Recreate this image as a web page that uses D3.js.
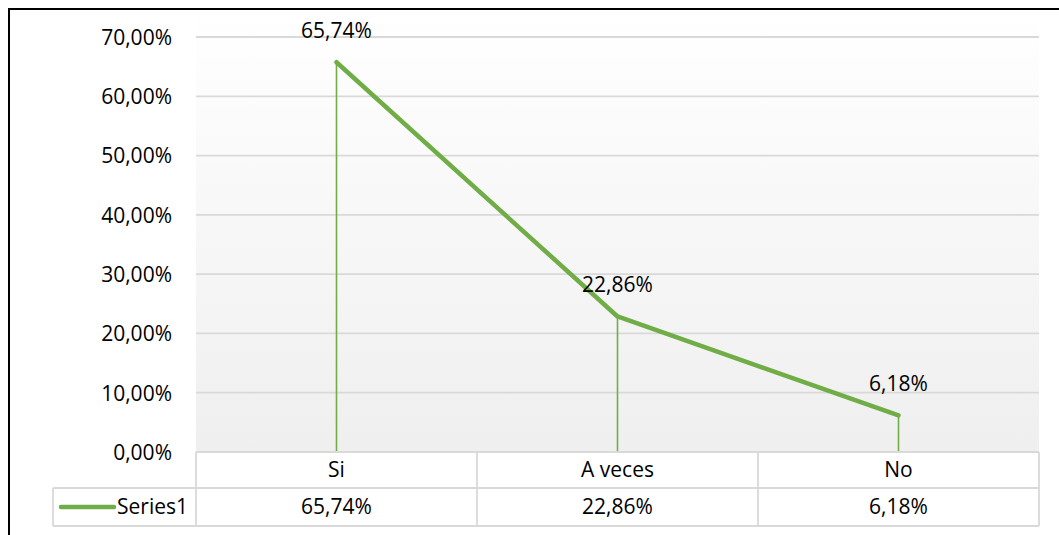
<!DOCTYPE html>
<html>
<head>
<meta charset="utf-8">
<script src="https://cdn.jsdelivr.net/npm/d3@7"></script>
<style>
  html, body { margin: 0; padding: 0; background: #fff; }
  svg { display: block; font-family: "Open Sans", "Liberation Sans", sans-serif; }
</style>
</head>
<body>
<svg id="chart" width="1059" height="535"></svg>
<script>
// Survey answers and their shares
const categories = ["Si", "A veces", "No"];
const values = [0.6574, 0.2286, 0.0618];
const seriesName = "Series1";
const yTicks = [0, 0.1, 0.2, 0.3, 0.4, 0.5, 0.6, 0.7];

const fmt = v => (v * 100).toFixed(2).replace(".", ",") + "%";

const svg = d3.select("#chart");
const W = 1059, H = 535;
const plot = { left: 196, right: 1039, top: 37, bottom: 452 };
const rowH = [36, 38];
const seriesCellLeft = 53;
const green = "#70ad47";
const gridColor = "#d9d9d9";
const fontSize = 21;

const x = d3.scaleBand().domain(categories).range([plot.left, plot.right]).padding(0);
const y = d3.scaleLinear().domain([0, 0.7]).range([plot.bottom, plot.top]);

// Plot background: soft vertical gradient
const defs = svg.append("defs");
const grad = defs.append("linearGradient").attr("id", "plotBg")
  .attr("x1", 0).attr("y1", 0).attr("x2", 0).attr("y2", 1);
grad.append("stop").attr("offset", "0%").attr("stop-color", "#ffffff");
grad.append("stop").attr("offset", "100%").attr("stop-color", "#efefef");

svg.append("rect")
  .attr("x", plot.left).attr("y", 10)
  .attr("width", plot.right - plot.left).attr("height", plot.bottom - 10)
  .attr("fill", "url(#plotBg)");

// Horizontal gridlines
svg.append("g").selectAll("line").data(yTicks.filter(t => t > 0)).join("line")
  .attr("x1", plot.left).attr("x2", plot.right)
  .attr("y1", d => y(d)).attr("y2", d => y(d))
  .attr("stroke", gridColor).attr("stroke-width", 1.8);

// Y axis labels
const yAxis = d3.axisLeft(y).tickValues(yTicks).tickFormat(fmt).tickSize(0).tickPadding(0);
const yg = svg.append("g").attr("transform", "translate(172,0)").call(yAxis);
yg.select(".domain").remove();
yg.selectAll("text")
  .attr("font-family", "'Open Sans', sans-serif")
  .attr("font-size", fontSize).attr("fill", "#000")
  .attr("dy", "0.35em");

const cx = d => x(d) + x.bandwidth() / 2;

// Drop lines from each point to the axis
svg.append("g").selectAll("line").data(categories).join("line")
  .attr("x1", cx).attr("x2", cx)
  .attr("y1", (d, i) => y(values[i])).attr("y2", plot.bottom)
  .attr("stroke", green).attr("stroke-width", 1.6);

// Series line
const line = d3.line().x((d, i) => cx(categories[i])).y(d => y(d));
svg.append("path").datum(values)
  .attr("d", line)
  .attr("fill", "none").attr("stroke", green)
  .attr("stroke-width", 4.5).attr("stroke-linejoin", "round").attr("stroke-linecap", "round");

// Data labels
svg.append("g").selectAll("text").data(values).join("text")
  .attr("x", (d, i) => cx(categories[i]))
  .attr("y", d => y(d) - 24)
  .attr("text-anchor", "middle")
  .attr("font-size", fontSize).attr("fill", "#000")
  .text(fmt);

// Data table beneath the plot
const table = svg.append("g").attr("stroke", gridColor).attr("stroke-width", 1.8).attr("fill", "none");
const r1Top = plot.bottom, r1Bot = r1Top + rowH[0], r2Bot = r1Bot + rowH[1];
table.append("line").attr("x1", plot.left).attr("x2", plot.right).attr("y1", r1Top).attr("y2", r1Top);
table.append("line").attr("x1", seriesCellLeft).attr("x2", plot.right).attr("y1", r1Bot).attr("y2", r1Bot);
table.append("line").attr("x1", seriesCellLeft).attr("x2", plot.right).attr("y1", r2Bot).attr("y2", r2Bot);
table.append("line").attr("x1", seriesCellLeft).attr("x2", seriesCellLeft).attr("y1", r1Bot).attr("y2", r2Bot);
const colEdges = [plot.left].concat(categories.map(c => x(c) + x.bandwidth()));
table.selectAll(".col").data(colEdges).join("line")
  .attr("x1", d => d).attr("x2", d => d)
  .attr("y1", r1Top).attr("y2", r2Bot);

svg.append("g").selectAll("text").data(categories).join("text")
  .attr("x", cx).attr("y", (r1Top + r1Bot) / 2)
  .attr("dy", "0.35em").attr("text-anchor", "middle")
  .attr("font-size", fontSize).attr("fill", "#000")
  .text(d => d);

svg.append("g").selectAll("text").data(values).join("text")
  .attr("x", (d, i) => cx(categories[i])).attr("y", (r1Bot + r2Bot) / 2)
  .attr("dy", "0.35em").attr("text-anchor", "middle")
  .attr("font-size", fontSize).attr("fill", "#000")
  .text(fmt);

// Legend key inside the table
const keyY = (r1Bot + r2Bot) / 2;
svg.append("line")
  .attr("x1", 61).attr("x2", 114).attr("y1", keyY).attr("y2", keyY)
  .attr("stroke", green).attr("stroke-width", 4.5).attr("stroke-linecap", "round");
svg.append("text")
  .attr("x", 117).attr("y", keyY).attr("dy", "0.35em")
  .attr("font-size", fontSize).attr("fill", "#000")
  .text(seriesName);

// Outer frame (top and left edges)
svg.append("path")
  .attr("d", `M9,${H} L9,9 L${W},9`)
  .attr("fill", "none").attr("stroke", "#000").attr("stroke-width", 2);
</script>
</body>
</html>
